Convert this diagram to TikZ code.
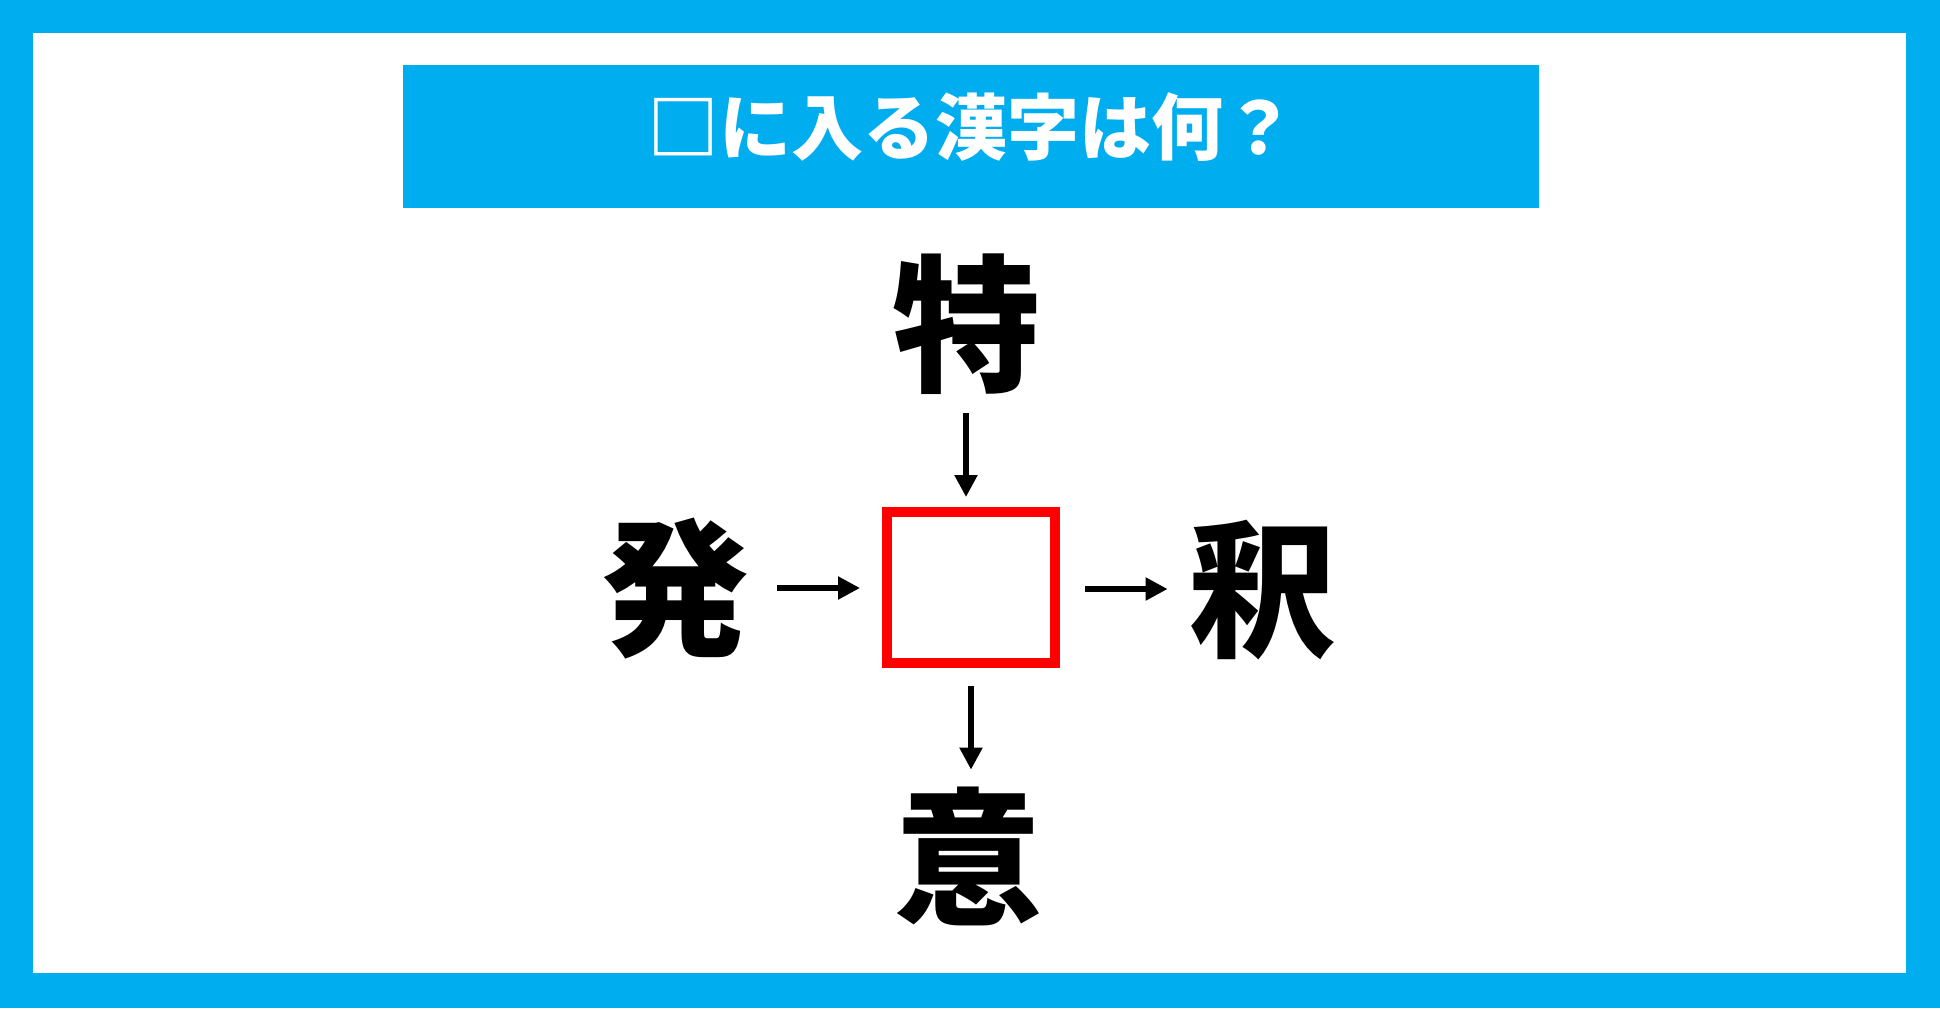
\documentclass[tikz,border=0pt]{standalone}
\usepackage{fontspec}
\newfontfamily\jpbold{Noto Sans CJK JP Black}
\newfontfamily\jptitle{Noto Sans CJK JP Bold}
\usetikzlibrary{arrows.meta}
\definecolor{skyblue}{HTML}{00AEEF}
\definecolor{boxred}{HTML}{FF0000}
\tikzset{
  kanji/.style={inner sep=0pt, font=\jpbold\fontsize{74pt}{74pt}\selectfont, text height=65.1pt, text depth=8.9pt},
  arr/.style={line width=2.6pt, -{Triangle[length=11pt,width=11pt]}},
  answerbox/.style={draw=boxred, line width=5pt, minimum width=84pt, minimum height=75.5pt, inner sep=0pt}
}
\begin{document}
\begin{tikzpicture}[x=0.5pt,y=-0.5pt]
\useasboundingbox (0,0) rectangle (1940,1008);
\fill[skyblue] (0,0) rectangle (1940,1008);
\fill[white] (33,33) rectangle (1906,973);
\fill[skyblue] (403,65) rectangle (1539,208);
\node[text=white, inner sep=0pt, font=\jpbold\fontsize{36pt}{36pt}\selectfont] (title) at (971,127) {□に入る漢字は何？};
\node[answerbox] (box) at (971,587.5) {};
\node[kanji] (toku) at (966,324) {特};
\node[kanji] (hatsu) at (675,588) {発};
\node[kanji] (shaku) at (1262,589) {釈};
\node[kanji] (i) at (968,857) {意};
\draw[arr, shorten <=7.5pt, shorten >=5pt] (toku.south) -- (toku.south |- box.north);
\draw[arr, shorten <=9pt, shorten >=6.5pt] (box.south) -- (box.south |- i.north);
\draw[arr, shorten <=14pt, shorten >=11pt] (hatsu.east) -- (hatsu.east -| box.west);
\draw[arr, shorten <=12.5pt, shorten >=10pt] (box.east |- shaku.west) -- (shaku.west);
\end{tikzpicture}
\end{document}
